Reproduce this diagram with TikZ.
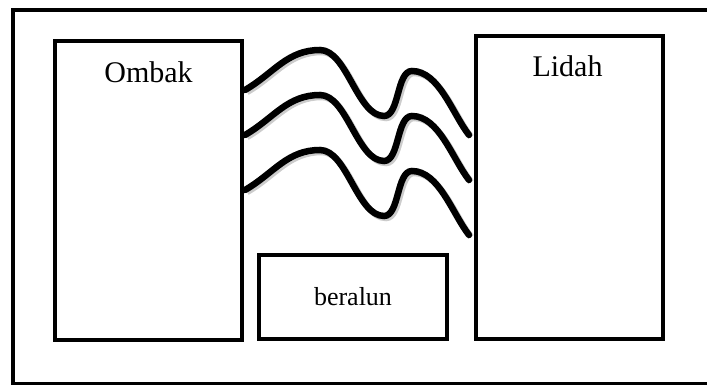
\documentclass[tikz,border=0pt]{standalone}
\usepackage{fontspec}
\setmainfont{Liberation Serif}
\usetikzlibrary{calc}

\tikzset{
  kotak/.style={draw, line width=4pt, inner sep=0pt},
  ombak/.style={line width=6.5pt, line cap=round,
    preaction={draw, gray!40, line width=6.5pt, transform canvas={shift={(2pt,-2pt)}}}},
  tulisan/.style={font=\fontsize{30}{36}\selectfont}
}

\begin{document}
\begin{tikzpicture}[x=1pt,y=1pt]
    \useasboundingbox (0,0) rectangle (707,385);
    \clip (0,0) rectangle (707,385);
    \draw[line width=3.5pt] (13,1) rectangle (715,375);
    \node[kotak, minimum width=187pt, minimum height=299pt] (ombak) at (148.5,194.5) {};
    \node[kotak, minimum width=187pt, minimum height=303pt] (lidah) at (569.5,197.5) {};
    \node[kotak, minimum width=188pt, minimum height=84pt] (beralun) at (353,88) {};
    \node[tulisan] (tombak) at ($(ombak.north)+(0,-33)$) {Ombak};
    \node[tulisan] (tlidah) at ($(lidah.north)+(-2,-32)$) {Lidah};
    \node[font=\fontsize{26}{30}\selectfont] (tberalun) at (beralun.center) {beralun};
    \foreach \dy in {0,45,100}
        \draw[ombak] ($(ombak.north east)+(1,-51-\dy)$)
            to[out=30,in=180] ++(75,40)
            to[out=0,in=180,looseness=0.75] ++(64,-66)
            to[out=0,in=180,looseness=0.75] ++(28,45)
            to[out=0,in=128,looseness=0.8] ($(lidah.north west)+(-5,-101-\dy)$);
\end{tikzpicture}
\end{document}
